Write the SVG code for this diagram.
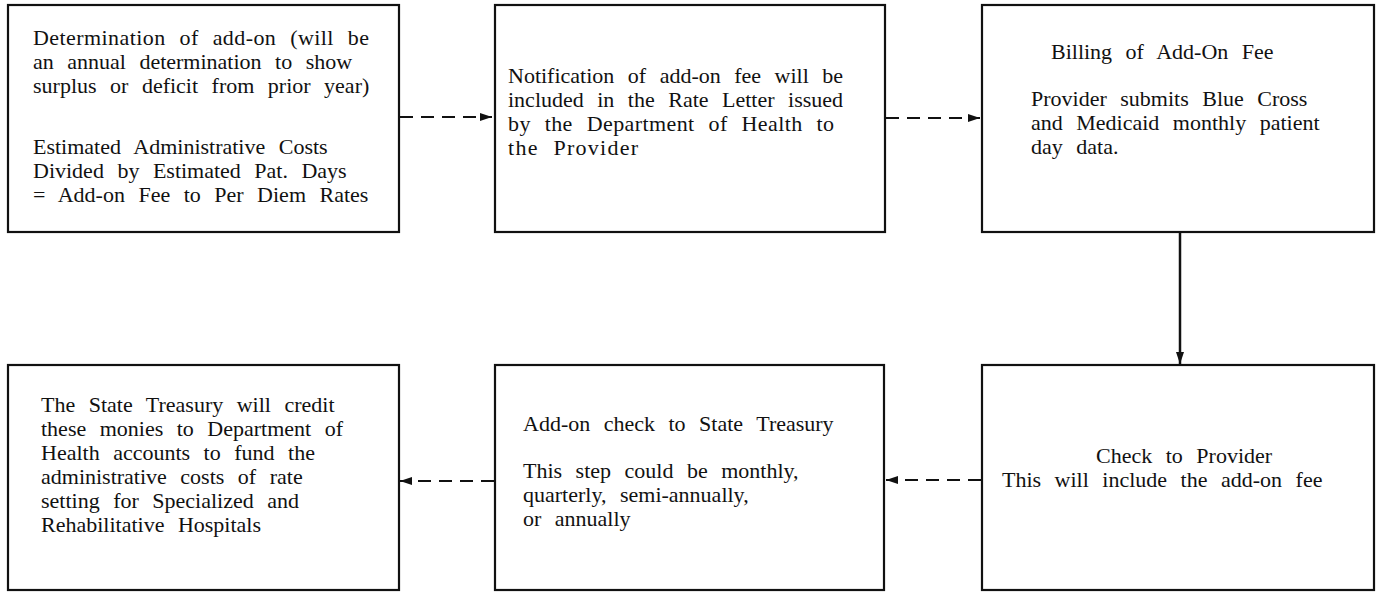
<svg xmlns="http://www.w3.org/2000/svg" width="1377" height="592" viewBox="0 0 1377 592">
<style>
.box{fill:#fff;stroke:#111;stroke-width:2.2}
text{font-family:"Liberation Serif","Times New Roman",serif;font-size:22px;fill:#111;word-spacing:8px}
.dash{stroke:#111;stroke-width:2;fill:none;stroke-dasharray:13 8}
.solid{stroke:#111;stroke-width:2.5;fill:none}
</style>
<defs>
<marker id="ah" viewBox="0 0 12 8" refX="12" refY="4" markerWidth="12" markerHeight="8" markerUnits="userSpaceOnUse" orient="auto">
<path d="M0,0 L12,4 L0,8 z" fill="#111"/>
</marker>
</defs>
<rect width="1377" height="592" fill="#fff"/>
<g id="node1">
<rect class="box" x="8" y="5" width="391" height="227"/>
<text x="33" y="45" textLength="336" lengthAdjust="spacing">Determination of add-on (will be</text>
<text x="33" y="69">an annual determination to show</text>
<text x="33" y="93">surplus or deficit from prior year)</text>
<text x="33" y="154">Estimated Administrative Costs</text>
<text x="33" y="178">Divided by Estimated Pat. Days</text>
<text x="33" y="202">= Add-on Fee to Per Diem Rates</text>
</g>
<g id="node2">
<rect class="box" x="495" y="5" width="390" height="227"/>
<text x="508" y="83">Notification of add-on fee will be</text>
<text x="508" y="107">included in the Rate Letter issued</text>
<text x="508" y="131" textLength="326" lengthAdjust="spacing">by the Department of Health to</text>
<text x="508" y="155" textLength="130" lengthAdjust="spacing">the Provider</text>
</g>
<g id="node3">
<rect class="box" x="982" y="5" width="392" height="227"/>
<text x="1051" y="59">Billing of Add-On Fee</text>
<text x="1031" y="106">Provider submits Blue Cross</text>
<text x="1031" y="130">and Medicaid monthly patient</text>
<text x="1031" y="154">day data.</text>
</g>
<g id="node4">
<rect class="box" x="8" y="365" width="391" height="225"/>
<text x="41" y="412">The State Treasury will credit</text>
<text x="41" y="436">these monies to Department of</text>
<text x="41" y="460">Health accounts to fund the</text>
<text x="41" y="484">administrative costs of rate</text>
<text x="41" y="508">setting for Specialized and</text>
<text x="41" y="532">Rehabilitative Hospitals</text>
</g>
<g id="node5">
<rect class="box" x="495" y="365" width="389" height="225"/>
<text x="523" y="431">Add-on check to State Treasury</text>
<text x="523" y="478">This step could be monthly,</text>
<text x="523" y="502">quarterly, semi-annually,</text>
<text x="523" y="526">or annually</text>
</g>
<g id="node6">
<rect class="box" x="982" y="365" width="392" height="225"/>
<text x="1096" y="463">Check to Provider</text>
<text x="1002" y="487">This will include the add-on fee</text>
</g>
<g id="connectors">
<line class="dash" x1="400" y1="117" x2="492" y2="117" marker-end="url(#ah)"/>
<line class="dash" x1="886" y1="118" x2="980" y2="118" marker-end="url(#ah)"/>
<line class="solid" x1="1180" y1="233" x2="1180" y2="364" marker-end="url(#ah)"/>
<line class="dash" x1="981" y1="480" x2="886" y2="480" marker-end="url(#ah)"/>
<line class="dash" x1="494" y1="481" x2="400" y2="481" marker-end="url(#ah)"/>
</g>
</svg>
